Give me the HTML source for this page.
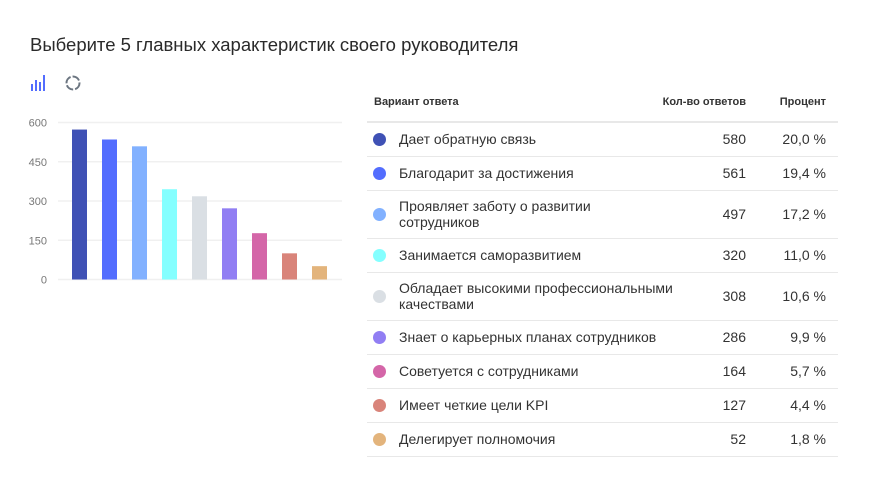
<!DOCTYPE html>
<html><head><meta charset="utf-8"><style>
body{margin:0;width:870px;height:504px;background:#fff;font-family:"Liberation Sans",sans-serif;position:relative;overflow:hidden;color:#333}
.abs{position:absolute}
.row{position:absolute;left:367px;width:471px;border-bottom:1px solid #e8e8e8;font-size:14px}
.dot{position:absolute;left:6px;width:13px;height:13px;border-radius:50%}
.lbl{position:absolute;left:32px;line-height:16px;width:285px}
.cnt{position:absolute;right:92px;text-align:right}
.pct{position:absolute;right:12px;text-align:right}
</style></head><body>
<div class="abs" style="left:30px;top:34px;font-size:18.5px;color:#2a2a2a">Выберите 5 главных характеристик своего руководителя</div>
<svg class="abs" style="left:0;top:0" width="360" height="300">
<g fill="#536dfe"><rect x="31" y="84" width="2" height="7"/><rect x="35" y="80" width="2" height="11"/><rect x="39" y="82" width="2" height="9"/><rect x="43" y="75" width="2" height="16"/></g>
<circle cx="73" cy="83" r="6.5" fill="none" stroke="#6b7580" stroke-width="2" stroke-dasharray="8 2"/>
<g id="grid"></g><g id="bars"></g>
</svg>
<div class="abs" style="left:374px;top:96px;font-size:11px;font-weight:bold;color:#333">Вариант ответа</div>
<div class="abs" style="left:646px;width:100px;text-align:right;top:96px;font-size:11px;font-weight:bold;color:#333">Кол-во ответов</div>
<div class="abs" style="left:726px;width:100px;text-align:right;top:96px;font-size:11px;font-weight:bold;color:#333">Процент</div>
<div class="abs" style="left:367px;top:121px;width:471px;height:2px;background:#e8e8e8"></div>
<div id="table"></div>
<script>
const categories=["Дает обратную связь","Благодарит за достижения","Проявляет заботу о развитии сотрудников","Занимается саморазвитием","Обладает высокими профессиональными качествами","Знает о карьерных планах сотрудников","Советуется с сотрудниками","Имеет четкие цели KPI","Делегирует полномочия"];
const barValues=[573,535,509,345,318,272,177,100,51];
const counts=[580,561,497,320,308,286,164,127,52];
const percents=["20,0 %","19,4 %","17,2 %","11,0 %","10,6 %","9,9 %","5,7 %","4,4 %","1,8 %"];
const yTicks=[0,150,300,450,600];
const colors=["#3f51b5","#536dfe","#82b1ff","#84ffff","#dadfe4","#917ef3","#d466a8","#d9847a","#e3b47c"];
const NS="http://www.w3.org/2000/svg";
const y0=279.5,yMax=600,pxH=157;
const yS=v=>y0-v/yMax*pxH;
const xS=i=>79.5+i*30;
const grid=document.getElementById('grid');
yTicks.forEach(t=>{
 const l=document.createElementNS(NS,'line');
 
 
 l.setAttribute('x1',58);l.setAttribute('x2',342);l.setAttribute('y1',yS(t));l.setAttribute('y2',yS(t));
 l.setAttribute('stroke','#f0f0f0');l.setAttribute('stroke-width','1.5');grid.appendChild(l);
 const tx=document.createElementNS(NS,'text');
 
 
 tx.setAttribute('x',47);tx.setAttribute('y',yS(t)+4);tx.setAttribute('text-anchor','end');
 tx.setAttribute('font-size','11');tx.setAttribute('fill','#777');tx.textContent=t;grid.appendChild(tx);
});
const bars=document.getElementById('bars');
barValues.forEach((v,i)=>{
 const r=document.createElementNS(NS,'rect');
 
 
 r.setAttribute('x',xS(i)-7.5);r.setAttribute('width',15);r.setAttribute('y',yS(v));r.setAttribute('height',y0-yS(v));
 r.setAttribute('fill',colors[i]);bars.appendChild(r);
});
const tb=document.getElementById('table');
let rowTop=123;
categories.forEach((c,i)=>{
 const h=(i==2||i==4)?48:34;
 const row=document.createElement('div');
 
 
 row.className='row';row.style.top=rowTop+'px';row.style.height=(h-1)+'px';
 const mid=h/2;
 const w=(i==2)?'width:240px;':'';
 row.innerHTML='<div class="dot" style="top:'+(mid-7)+'px;background:'+colors[i]+'"></div>'+
 '<div class="lbl" style="'+w+'top:'+(mid-(h>40?17:9))+'px">'+c+'</div>'+
 '<div class="cnt" style="top:'+(mid-9)+'px">'+counts[i]+'</div>'+
 '<div class="pct" style="top:'+(mid-9)+'px">'+percents[i]+'</div>';
 row.querySelectorAll('div').forEach(d=>{
  
  
 });
 tb.appendChild(row);rowTop+=h;
});
</script>
</body></html>
